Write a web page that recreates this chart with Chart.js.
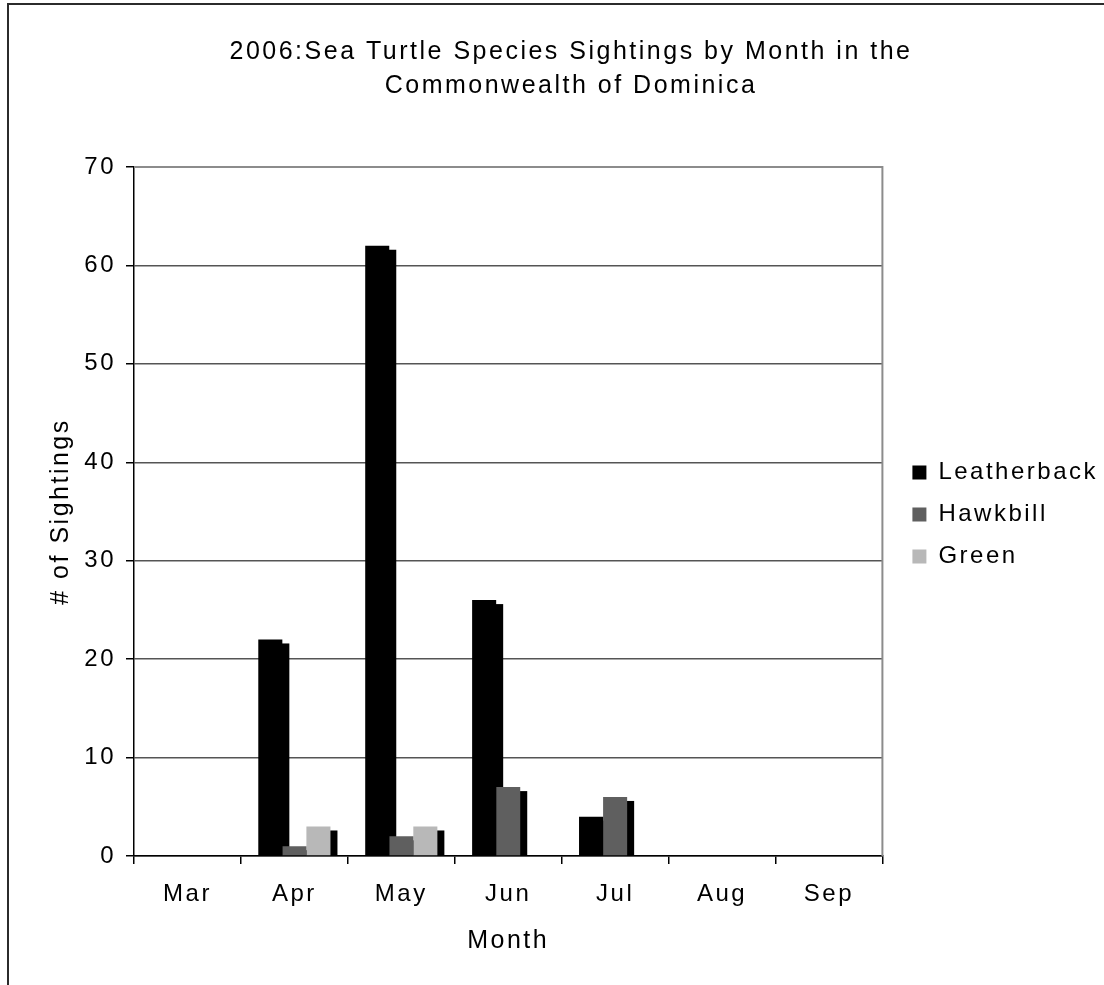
<!DOCTYPE html>
<html>
<head>
<meta charset="utf-8">
<script src="https://cdn.jsdelivr.net/npm/chart.js@4.4.0/dist/chart.umd.min.js"></script>
<style>
  html, body { margin: 0; padding: 0; background: #fff; overflow: hidden; }
  #frame { position: absolute; left: 7px; top: 3px; width: 1200px; height: 1100px;
           border-left: 2px solid #2b2b2b; border-top: 2px solid #2b2b2b; }
</style>
</head>
<body>
<div id="frame">
  <canvas id="turtleChart" width="1108" height="985"></canvas>
</div>
<script>
// Chart data
const months = ['Mar', 'Apr', 'May', 'Jun', 'Jul', 'Aug', 'Sep'];
const leatherback = [0, 22, 62, 26, 4, 0, 0];
const hawkbill = [0, 1, 2, 7, 6, 0, 0];
const green = [0, 3, 3, 0, 0, 0, 0];
const yTicks = [0, 10, 20, 30, 40, 50, 60, 70];

const chartTitle = ['2006:Sea Turtle Species Sightings by Month in the', 'Commonwealth of Dominica'];

// wide letter spacing like the original export, has to be reset after canvas resets
const spacing = {
    id: 'spacing',
    beforeLayout(chart) { chart.ctx.letterSpacing = '2.5px'; },
    beforeDraw(chart) { chart.ctx.letterSpacing = '2.5px'; },
    afterLayout(chart) {
        // move the legend next to the plot, centred on it like the original
        chart.legend.left += 12;
        chart.legend.right += 12;
        chart.legend.top += 34;
        chart.legend.bottom += 34;
    }
};

// black drop shadow behind every bar + grey frame on top/right of plot
const shadows = {
    id: 'shadows',
    beforeDatasetsDraw(chart) {
        const ctx = chart.ctx;
        const area = chart.chartArea;
        ctx.save();
        ctx.strokeStyle = '#8c8c8c';
        ctx.lineWidth = 2;
        ctx.beginPath();
        ctx.moveTo(area.left, area.top);
        ctx.lineTo(area.right, area.top);
        ctx.lineTo(area.right, area.bottom);
        ctx.stroke();
        ctx.fillStyle = '#000';
        chart.data.datasets.forEach((ds, i) => {
            const meta = chart.getDatasetMeta(i);
            meta.data.forEach((bar, j) => {
                if (!ds.data[j]) return;
                const p = bar.getProps(['x', 'y', 'base', 'width'], true);
                const top = p.y + 4;
                ctx.fillRect(p.x - p.width / 2 + 7, top, p.width, p.base - top);
            });
        });
        ctx.restore();
    }
};

const family = "'Liberation Sans', Arial, sans-serif";
const font = { family: family, size: 24 };

var ctx = document.getElementById('turtleChart').getContext('2d');
var myChart = new Chart(ctx, {
    type: 'bar',
    data: {
        labels: months,
        datasets: [
            { label: 'Leatherback', data: leatherback, backgroundColor: '#000000' },
            { label: 'Hawkbill', data: hawkbill, backgroundColor: '#5f5f5f' },
            { label: 'Green', data: green, backgroundColor: '#b8b8b8' }
        ]
    },
    options: {
        responsive: false,
        animation: false,
        events: [],
        barPercentage: 1,
        categoryPercentage: 0.675,
        layout: { padding: { left: 37, right: 21, top: 0, bottom: 34 } },
        scales: {
            x: {
                grid: { drawOnChartArea: false, tickLength: 8, color: '#000', lineWidth: 1.5 },
                border: { color: '#000', width: 1.5 },
                ticks: { color: '#000', font: font, padding: 16 },
                title: { display: true, text: 'Month', color: '#000', font: { family: family, size: 25 }, padding: 0 },
                afterFit(scale) { scale.height = 100; }
            },
            y: {
                min: 0,
                max: 70,
                afterBuildTicks(scale) { scale.ticks = yTicks.map(v => ({ value: v })); },
                grid: { color: '#555555', lineWidth: 1.5, tickLength: 8, tickColor: '#000' },
                border: { color: '#000', width: 1.5 },
                ticks: { color: '#000', font: font, padding: 10 },
                title: { display: true, text: '# of Sightings', color: '#000', font: { family: family, size: 25 }, padding: 0 },
                afterFit(scale) { scale.width = 88; }
            }
        },
        plugins: {
            title: {
                display: true,
                text: chartTitle,
                color: '#000',
                font: { family: family, size: 25, weight: 'normal', lineHeight: 34 / 25 },
                padding: { top: 30, bottom: 64 }
            },
            legend: {
                position: 'right',
                labels: { color: '#000', font: font, boxWidth: 14, boxHeight: 14, padding: 18 }
            },
            tooltip: { enabled: false }
        }
    },
    plugins: [spacing, shadows]
});
</script>
</body>
</html>
